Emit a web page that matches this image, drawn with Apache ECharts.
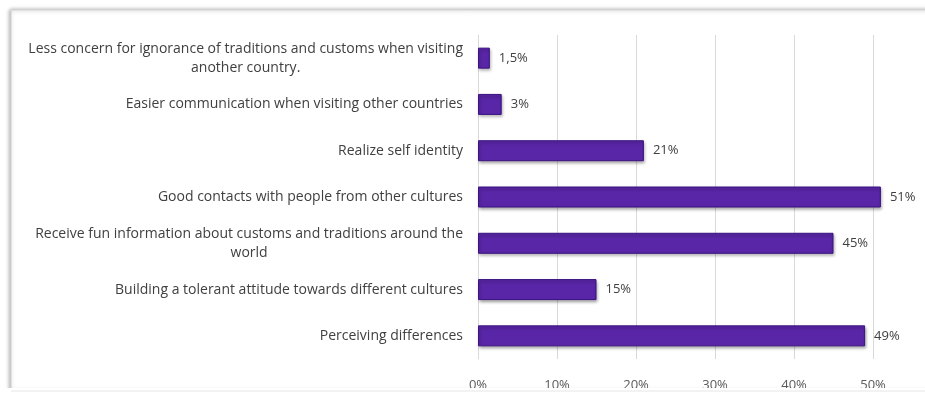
<!DOCTYPE html>
<html>
<head>
<meta charset="utf-8">
<script src="https://cdn.jsdelivr.net/npm/echarts@6/dist/echarts.min.js"></script>
<style>
  html, body { margin: 0; padding: 0; background: #fff; }
  #chart { width: 925px; height: 396px; }
</style>
</head>
<body>
<div id="chart"></div>
<script>
// Survey answers, listed bottom to top as they sit on the category axis
const categories = [
  'Perceiving differences',
  'Building a tolerant attitude towards different cultures',
  'Receive fun information about customs and traditions around the\nworld',
  'Good contacts with people from other cultures',
  'Realize self identity',
  'Easier communication when visiting other countries',
  'Less concern for ignorance of traditions and customs when visiting\nanother country.'
];
const shares = [49, 15, 45, 51, 21, 3, 1.5];
const tickValues = [0, 10, 20, 30, 40, 50];

const chart = echarts.init(document.getElementById('chart'));

const fontFamily = '"Open Sans", "Liberation Sans", sans-serif';

chart.setOption({
  animation: false,
  grid: { left: 478, right: 52, top: 35, bottom: 37, containLabel: false },
  graphic: [
    {
      type: 'rect',
      z: -10,
      shape: { x: 11, y: 10, width: 940, height: 381 },
      style: {
        fill: '#fff',
        stroke: '#d4d4d4',
        lineWidth: 1,
        shadowColor: 'rgba(0,0,0,0.35)',
        shadowBlur: 4,
        shadowOffsetX: -1
      }
    },
    {
      type: 'rect',
      z: 100,
      shape: { x: 0, y: 388, width: 925, height: 8 },
      style: { fill: '#fff' }
    },
    {
      type: 'line',
      z: 101,
      shape: { x1: 11, y1: 391, x2: 925, y2: 391 },
      style: { stroke: '#e6e6e6', lineWidth: 1 }
    }
  ],
  xAxis: {
    type: 'value',
    min: 0,
    max: 50,
    interval: 10,
    axisLine: { show: false },
    axisTick: { show: false },
    splitLine: { show: true, lineStyle: { color: '#d9d9d9', width: 1 } },
    axisLabel: {
      color: '#595959',
      fontFamily: fontFamily,
      fontSize: 13,
      margin: 20,
      formatter: v => tickValues.includes(v) ? v + '%' : ''
    }
  },
  yAxis: {
    type: 'category',
    data: categories,
    axisLine: { show: true, lineStyle: { color: '#d9d9d9' } },
    axisTick: { show: false },
    axisLabel: {
      color: '#404040',
      fontFamily: fontFamily,
      fontSize: 14,
      margin: 15,
      lineHeight: 19,
      align: 'right',
      formatter: v => v.split('\n').map(s => '{c|' + s + '}').join('\n'),
      rich: {
        c: {
          align: 'center',
          color: '#404040',
          fontFamily: fontFamily,
          fontSize: 14,
          lineHeight: 19
        }
      }
    }
  },
  series: [
    {
      type: 'bar',
      data: shares,
      barWidth: 21,
      clip: false,
      itemStyle: {
        color: '#5a26a8',
        borderColor: '#3b1381',
        borderWidth: 1,
        shadowColor: 'rgba(0,0,0,0.35)',
        shadowBlur: 3,
        shadowOffsetX: 1,
        shadowOffsetY: 2
      },
      label: {
        show: true,
        position: 'right',
        distance: 9,
        color: '#404040',
        fontFamily: fontFamily,
        fontSize: 13,
        formatter: p => String(p.value).replace('.', ',') + '%'
      }
    }
  ]
});
</script>
</body>
</html>
